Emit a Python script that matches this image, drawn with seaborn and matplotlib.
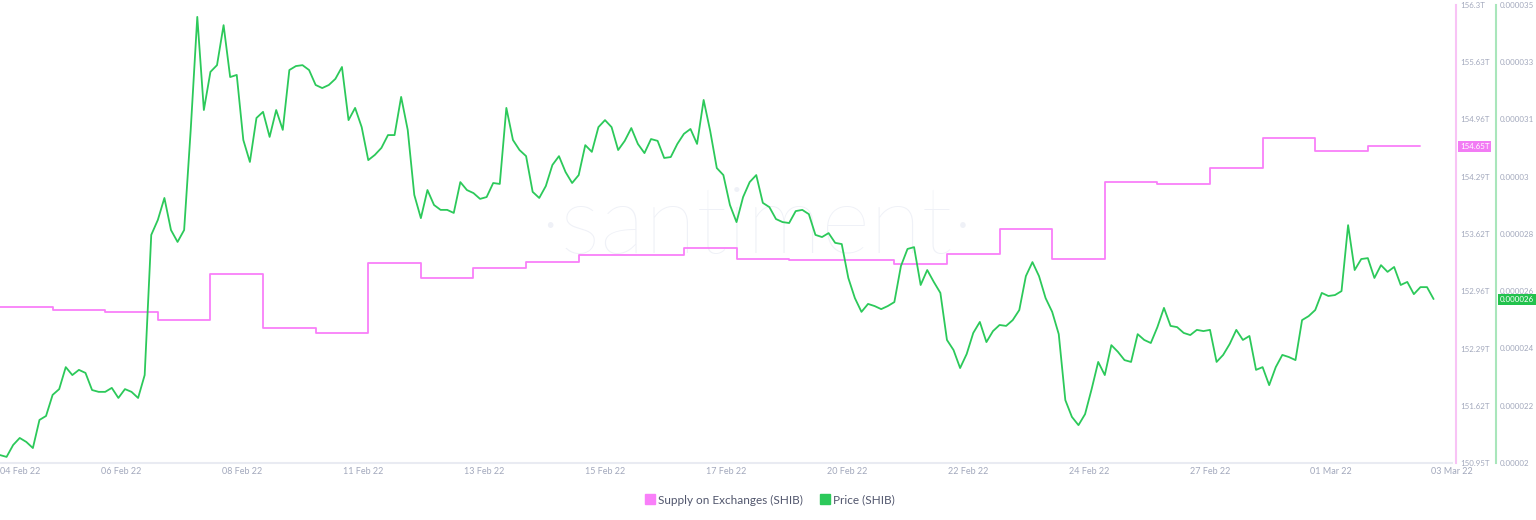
import numpy as np
import pandas as pd
import matplotlib
matplotlib.use('Agg')
import matplotlib.pyplot as plt
from matplotlib.lines import Line2D
import seaborn as sns

# ===============================================
# DATA
# ===============================================
START = pd.Timestamp('2022-02-04 03:00')
SPAN_DAYS = 27.6

# supply on exchanges, trillions of SHIB, one value per day
supply_t = [152.77, 152.74, 152.71, 152.62, 153.16, 152.53, 152.47, 153.29, 153.11,
            153.23, 153.30, 153.38, 153.38, 153.46, 153.33, 153.32, 153.32, 153.27,
            153.39, 153.68, 153.33, 154.23, 154.21, 154.40, 154.75, 154.59, 154.65]

# SHIB price in millionths of a dollar, one reading every 3 hours
price_u = [20.26, 20.20, 20.59, 20.82, 20.69, 20.49, 21.41, 21.54, 22.23, 22.42,
           23.14, 22.88, 23.05, 22.95, 22.39, 22.33, 22.33, 22.46, 22.13, 22.42,
           22.33, 22.13, 22.88, 27.47, 27.96, 28.68, 27.63, 27.24, 27.63, 30.91,
           34.61, 31.56, 32.81, 33.03, 34.34, 32.64, 32.71, 30.58, 29.86, 31.30,
           31.50, 30.68, 31.56, 30.91, 32.87, 33.00, 33.03, 32.87, 32.38, 32.28,
           32.38, 32.58, 32.97, 31.23, 31.63, 31.00, 29.92, 30.09, 30.32, 30.74,
           30.74, 31.99, 30.91, 28.78, 28.02, 28.94, 28.45, 28.29, 28.29, 28.19,
           29.20, 28.94, 28.84, 28.65, 28.71, 29.17, 29.14, 31.63, 30.58, 30.25,
           30.05, 28.88, 28.68, 29.07, 29.76, 30.05, 29.53, 29.17, 29.43, 30.41,
           30.19, 31.00, 31.23, 31.00, 30.25, 30.55, 30.97, 30.45, 30.15, 30.61,
           30.55, 29.99, 30.02, 30.45, 30.78, 30.94, 30.45, 31.89, 30.87, 29.66,
           29.43, 28.45, 27.89, 28.71, 29.20, 29.43, 28.52, 28.38, 27.99, 27.89,
           27.86, 28.25, 28.29, 28.15, 27.47, 27.40, 27.53, 27.21, 27.17, 26.06,
           25.40, 24.95, 25.21, 25.14, 25.04, 25.14, 25.27, 26.45, 27.01, 27.07,
           25.83, 26.32, 25.93, 25.57, 24.03, 23.70, 23.11, 23.57, 24.26, 24.62,
           23.96, 24.32, 24.52, 24.49, 24.68, 25.01, 26.12, 26.58, 26.12, 25.40,
           24.95, 24.22, 22.06, 21.51, 21.24, 21.60, 22.42, 23.31, 22.88, 23.86,
           23.64, 23.37, 23.31, 24.22, 24.03, 23.93, 24.45, 25.08, 24.49, 24.45,
           24.26, 24.19, 24.36, 24.32, 24.36, 23.31, 23.54, 23.90, 24.36, 24.03,
           24.16, 23.05, 23.14, 22.55, 23.14, 23.54, 23.47, 23.37, 24.68, 24.81,
           25.01, 25.57, 25.47, 25.50, 25.63, 27.79, 26.32, 26.68, 26.71, 26.06,
           26.48, 26.26, 26.42, 25.83, 25.93, 25.53, 25.76, 25.76, 25.37]

x_labels = ['04 Feb 22', '06 Feb 22', '08 Feb 22', '11 Feb 22', '13 Feb 22',
            '15 Feb 22', '17 Feb 22', '20 Feb 22', '22 Feb 22', '24 Feb 22',
            '27 Feb 22', '01 Mar 22', '03 Mar 22']
supply_tick_labels = ['150.95T', '151.62T', '152.29T', '152.96T', '153.62T',
                      '154.29T', '154.96T', '155.63T', '156.3T']
price_tick_labels = ['0.00002', '0.000022', '0.000024', '0.000026', '0.000028',
                     '0.00003', '0.000031', '0.000033', '0.000035']
supply_badge = '154.65T'
price_badge = '0.000026'

SUPPLY_RANGE = (150.95, 156.3)
PRICE_RANGE = (0.00002, 0.000035)

# ===============================================
# STYLE
# ===============================================
PINK = '#f97ff9'
PINK_AXIS = '#f8c3f5'
PINK_BADGE = '#f27cf4'
GREEN = '#2cc95a'
GREEN_AXIS = '#a9e6bb'
GREEN_BADGE = '#22c24d'
TICK_COLOR = '#a2a8bc'
LEGEND_COLOR = '#51566d'
Y_FONT = 5.7

sns.set_style('white')
plt.rcParams['font.family'] = ['Lato', 'DejaVu Sans']

supply_df = pd.DataFrame({
    'time': START + pd.to_timedelta(np.arange(len(supply_t) + 1), unit='D'),
    'supply': supply_t + [supply_t[-1]],
})
price_df = pd.DataFrame({
    'time': START + pd.to_timedelta(np.arange(len(price_u)) * 3, unit='h'),
    'price': np.array(price_u) * 1e-6,
})

W, H = 1536, 520
PX = 72 / 100  # points per pixel at dpi 100
fig = plt.figure(figsize=(W / 100, H / 100), dpi=100)
ax = fig.add_axes([0, 1 - 463 / H, 1452 / W, 458 / H])
ax2 = ax.twinx()

# watermark
ax.text(0.521, 0.459, '\u00b7santiment\u00b7', transform=ax.transAxes, ha='center',
        va='baseline', fontsize=68, fontweight='light', color='#eff1f7', zorder=0)

sns.lineplot(data=supply_df, x='time', y='supply', ax=ax, color=PINK, lw=1.3,
             drawstyle='steps-post', legend=False)
sns.lineplot(data=price_df, x='time', y='price', ax=ax2, color=GREEN, lw=1.3,
             legend=False)

# x axis
ax.set_xlim(START, START + pd.Timedelta(days=SPAN_DAYS))
step = SPAN_DAYS / (len(x_labels) - 1)
ax.set_xticks([START + pd.Timedelta(days=step * k) for k in range(len(x_labels))])
ax.set_xticklabels(x_labels)
ax.get_xticklabels()[0].set_ha('left')
ax.tick_params(axis='x', length=0, pad=3, labelsize=6.5, labelcolor=TICK_COLOR)
ax.set_xlabel('')

# supply axis (inner right)
ax.set_ylim(*SUPPLY_RANGE)
ax.set_yticks(np.linspace(*SUPPLY_RANGE, len(supply_tick_labels)))
ax.set_yticklabels(supply_tick_labels)
ax.yaxis.tick_right()
ax.tick_params(axis='y', length=0, pad=4 * PX, labelsize=Y_FONT, labelcolor=TICK_COLOR,
               labelleft=False, labelright=True)
ax.set_ylabel('')

# price axis (outer right)
ax2.set_ylim(*PRICE_RANGE)
ax2.set_yticks(np.linspace(*PRICE_RANGE, len(price_tick_labels)))
ax2.set_yticklabels(price_tick_labels)
ax2.tick_params(axis='y', length=0, pad=4 * PX, labelsize=Y_FONT, labelcolor=TICK_COLOR)
ax2.set_ylabel('')

for side in ['top', 'left', 'right']:
    ax.spines[side].set_visible(False)
ax.spines['bottom'].set_color('#e9ebf2')
ax.spines['bottom'].set_linewidth(1.5)
ax.spines['right'].set_visible(True)
ax.spines['right'].set_position(('outward', 4 * PX))
ax.spines['right'].set_color(PINK_AXIS)
ax.spines['right'].set_linewidth(1.5)
for side in ['top', 'left', 'bottom']:
    ax2.spines[side].set_visible(False)
ax2.spines['right'].set_position(('outward', 44 * PX))
ax2.spines['right'].set_color(GREEN_AXIS)
ax2.spines['right'].set_linewidth(1.5)
ax.grid(False)
ax2.grid(False)

# last value badges
ax.annotate(supply_badge, xy=(1, supply_t[-1]), xycoords=('axes fraction', 'data'),
            xytext=(8, 0), textcoords='offset pixels', ha='left', va='center',
            fontsize=Y_FONT, color='white', annotation_clip=False,
            bbox=dict(boxstyle='square,pad=0.25', fc=PINK_BADGE, ec='none'))
ax2.annotate(price_badge, xy=(1, price_df['price'].iloc[-1]),
             xycoords=('axes fraction', 'data'), xytext=(48, 0),
             textcoords='offset pixels', ha='left', va='center', fontsize=Y_FONT,
             color='white', annotation_clip=False,
             bbox=dict(boxstyle='square,pad=0.25', fc=GREEN_BADGE, ec='none'))

# legend
handles = [Line2D([], [], marker='s', ls='none', color=PINK, markersize=7),
           Line2D([], [], marker='s', ls='none', color=GREEN, markersize=7)]
fig.legend(handles, ['Supply on Exchanges (SHIB)', 'Price (SHIB)'], loc='center',
           bbox_to_anchor=(770 / W, 1 - 500 / H), ncol=2, frameon=False, fontsize=8.5,
           handlelength=0.8, handletextpad=0.3, columnspacing=1.4,
           labelcolor=LEGEND_COLOR)

fig.savefig('out.png', dpi=100)
